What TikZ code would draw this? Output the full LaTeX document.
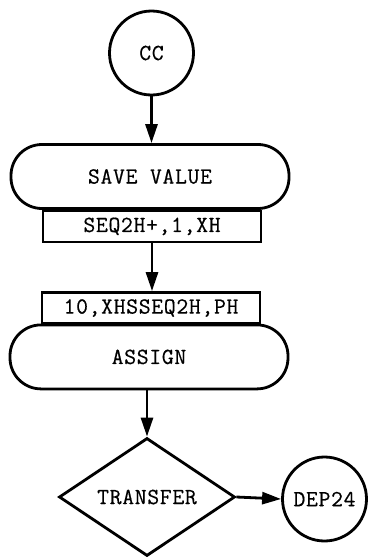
\documentclass[tikz,border=0pt]{standalone}
\usepackage{fontspec}
\newfontfamily\courfont[LetterSpace=3,FakeBold=0.5]{Latin Modern Mono}
\usetikzlibrary{arrows.meta,shapes.geometric}
\tikzset{
  every node/.style={font=\fontsize{23}{25}\selectfont\courfont},
  conn/.style={line width=2.8pt,-{Triangle[length=19pt,width=12pt]}},
  term/.style={draw,line width=2.8pt,circle,minimum size=84pt,inner sep=0pt},
  block/.style={draw,line width=2.8pt,rectangle,rounded corners=31pt,minimum width=278pt,minimum height=64pt,inner sep=0pt},
  opbox/.style={draw,line width=2.8pt,rectangle,minimum width=218pt,minimum height=31pt,inner sep=0pt},
  decide/.style={draw,line width=2.8pt,diamond,aspect=1.5,minimum width=176pt,minimum height=118pt,inner sep=0pt}
}
\begin{document}
\begin{tikzpicture}[x=1pt,y=-1pt]
\useasboundingbox (0,0) rectangle (367,557);
\node[term] (cc) at (151.5,53) {CC};
\node[block] (save) at (150,176.5) {SAVE VALUE};
\node[opbox,anchor=north] (seq) at (152,209.5) {SEQ2H+,1,XH};
\node[opbox] (r2) at (151,308) {10,XHSSEQ2H,PH};
\node[block,anchor=north] (assign) at (149,323.5) {ASSIGN};
\node[decide] (tr) at (147,497) {TRANSFER};
\node[term] (dep) at (324.5,499) {DEP24};
\draw[conn] (cc.south) -- (cc.south |- save.north);
\draw[conn] (seq.south) -- (seq.south |- r2.north);
\draw[conn] (assign.south -| tr.north) -- (tr.north);
\draw[conn] (tr.east) -- (dep.west);
\end{tikzpicture}
\end{document}
